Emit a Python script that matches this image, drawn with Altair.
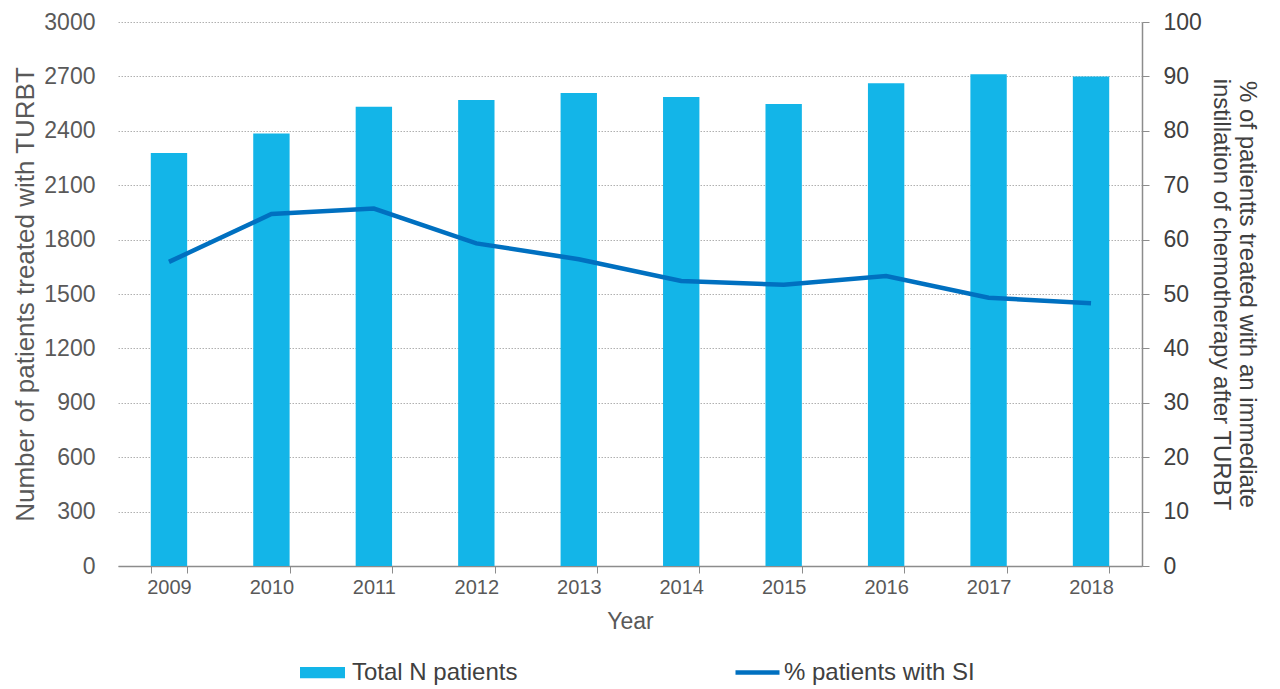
import altair as alt
import pandas as pd

years = ["2009", "2010", "2011", "2012", "2013", "2014", "2015", "2016", "2017", "2018"]
total_n = [2278, 2385, 2532, 2570, 2609, 2587, 2548, 2662, 2712, 2700]
pct_si = [55.9, 64.7, 65.7, 59.3, 56.4, 52.4, 51.7, 53.3, 49.3, 48.3]
left_ticks = [0, 300, 600, 900, 1200, 1500, 1800, 2100, 2400, 2700, 3000]
right_ticks = [0, 10, 20, 30, 40, 50, 60, 70, 80, 90, 100]

bar_label = "Total N patients"
line_label = "% patients with SI"

df = pd.DataFrame({
    "Year": years,
    "Total": total_n,
    "Pct": pct_si,
    "bar_series": [bar_label] * len(years),
    "line_series": [line_label] * len(years),
})

SANS = "Liberation Sans"
GRAY = "#595959"
DARK = "#404040"

x_enc = alt.X(
    "Year:N",
    sort=years,
    scale=alt.Scale(paddingInner=0.645, paddingOuter=0.32),
    axis=alt.Axis(
        title="Year",
        titleFont=SANS, titleFontSize=23, titleFontWeight="normal", titleColor=GRAY,
        titlePadding=13,
        labelFont=SANS, labelFontSize=20, labelColor=GRAY, labelPadding=4, labelAngle=0,
        domainColor="#8c8c8c", domainWidth=1.5,
        tickColor="#8c8c8c", tickWidth=1, tickSize=7, tickBand="extent",
        grid=False,
    ),
)

bars = alt.Chart(df).mark_bar(color="#13B5E8").encode(
    x=x_enc,
    y=alt.Y(
        "Total:Q",
        scale=alt.Scale(domain=[0, 3000], nice=False),
        axis=alt.Axis(
            values=left_ticks,
            format="d",
            title="Number of patients treated with TURBT",
            titleFont=SANS, titleFontSize=26, titleFontWeight="normal", titleColor=GRAY,
            titlePadding=5,
            labelFont=SANS, labelFontSize=23, labelColor=GRAY, labelPadding=23,
            domain=False, ticks=False,
            grid=True, gridColor="#b0b0b0", gridDash=[1.5, 1.5], gridWidth=1,
        ),
    ),
    fill=alt.Fill(
        "bar_series:N",
        scale=alt.Scale(domain=[bar_label], range=["#13B5E8"]),
        legend=alt.Legend(
            title=None, orient="none", legendX=182, legendY=628,
            symbolType="M-1,-0.25H1V0.25H-1Z", symbolSize=2025, symbolStrokeWidth=0,
            labelFont=SANS, labelFontSize=24, labelColor=DARK, labelOffset=7,
            labelLimit=400,
        ),
    ),
)

line = alt.Chart(df).mark_line(color="#0070C0", strokeWidth=4.5).encode(
    x=alt.X("Year:N", sort=years),
    y=alt.Y(
        "Pct:Q",
        scale=alt.Scale(domain=[0, 100], nice=False),
        axis=alt.Axis(
            orient="right",
            values=right_ticks,
            title=["% of patientts treated with an immediate", "instillation of chemotherapy after TURBT"],
            titleFont=SANS, titleFontSize=24, titleFontWeight="normal", titleColor=DARK,
            titleAngle=90, titlePadding=7, titleLineHeight=26,
            labelFont=SANS, labelFontSize=23, labelColor=DARK, labelPadding=14,
            domainColor="#8c8c8c", domainWidth=1.5,
            tickColor="#8c8c8c", tickSize=7, tickWidth=1,
            grid=False,
        ),
    ),
    stroke=alt.Stroke(
        "line_series:N",
        scale=alt.Scale(domain=[line_label], range=["#0070C0"]),
        legend=alt.Legend(
            title=None, orient="none", legendX=615, legendY=626,
            symbolType="stroke", symbolSize=1936, symbolStrokeWidth=4.5,
            labelFont=SANS, labelFontSize=24, labelColor=DARK, labelOffset=2,
            labelLimit=400,
        ),
    ),
)

chart = alt.layer(bars, line).resolve_scale(
    y="independent", fill="independent", stroke="independent"
).properties(
    width=1024,
    height=544,
    autosize=alt.AutoSizeParams(type="none"),
    padding={"left": 110, "top": 14, "right": 120, "bottom": 120},
).configure_view(stroke=None)

chart.save("out.html", embed_options={"renderer": "svg", "actions": False})
